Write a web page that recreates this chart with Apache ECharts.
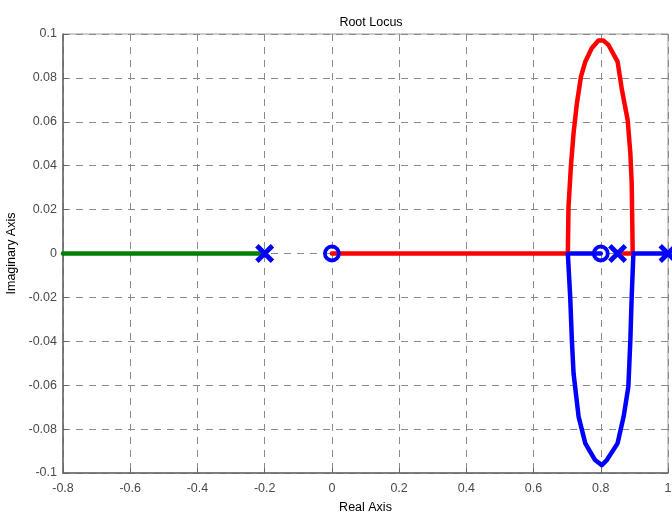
<!DOCTYPE html>
<html>
<head>
<meta charset="utf-8">
<script src="https://cdn.jsdelivr.net/npm/echarts@6/dist/echarts.min.js"></script>
<style>
  html, body { margin: 0; padding: 0; background: #fff; }
  #chart { width: 672px; height: 516px; }
</style>
</head>
<body>
<div id="chart"></div>
<script>
// real-axis segments
const greenBranch = [[-0.8, 0], [-0.2, 0]];
const redReal1 = [[0, 0], [0.702, 0]];
const redReal2 = [[0.85, 0], [0.895, 0]];
const blueReal1 = [[0.702, 0], [0.8, 0]];
const blueReal2 = [[0.897, 0], [1, 0]];

// complex branches
const upperArcX = [0.702, 0.704, 0.711, 0.719, 0.729, 0.741, 0.754, 0.773, 0.793, 0.808, 0.823, 0.850, 0.863, 0.880, 0.888, 0.892, 0.895];
const upperArcY = [0, 0.0213, 0.0395, 0.0548, 0.0684, 0.0806, 0.0874, 0.0935, 0.0970, 0.0970, 0.0950, 0.0874, 0.0745, 0.0608, 0.0456, 0.0320, 0];
const lowerArcX = [0.702, 0.709, 0.714, 0.719, 0.734, 0.754, 0.783, 0.803, 0.818, 0.850, 0.868, 0.882, 0.888, 0.892, 0.897];
const lowerArcY = [0, -0.0197, -0.0394, -0.0546, -0.0743, -0.0865, -0.0941, -0.0964, -0.0941, -0.0865, -0.0743, -0.0607, -0.0394, -0.0197, 0];

const poles = [[-0.2, 0], [0.85, 0], [1, 0]];
const zeros = [[0, 0], [0.8, 0]];

const xTicks = { min: -0.8, max: 1, interval: 0.2 };
const yTicks = { min: -0.1, max: 0.1, interval: 0.02 };

const zip = (xs, ys) => xs.map((x, i) => [x, ys[i]]);
const crossPath = 'path://M1.8,0 L5,3.2 L8.2,0 L10,1.8 L6.8,5 L10,8.2 L8.2,10 L5,6.8 L1.8,10 L0,8.2 L3.2,5 L0,1.8 Z';

const chart = echarts.init(document.getElementById('chart'));

function lineSeries(data, color) {
  return {
    type: 'line',
    data: data,
    showSymbol: false,
    symbol: 'none',
    lineStyle: { color: color, width: 4.5, cap: 'round', join: 'round' },
    animation: false,
    z: 3,
  };
}

const axisText = { color: '#4a4a4a', fontSize: 12.5, fontFamily: 'Liberation Sans, Arial, sans-serif' };

const option = {
  animation: false,
  title: {
    text: 'Root Locus',
    left: 366,
    textAlign: 'center',
    top: 11,
    textStyle: { color: '#000', fontSize: 12.5, fontWeight: 'normal', fontFamily: 'Liberation Sans, Arial, sans-serif' },
  },
  grid: {
    left: 63,
    right: 4,
    top: 34,
    bottom: 43,
    show: true,
    borderColor: '#9a9a9a',
    borderWidth: 1,
    outerBoundsMode: 'none',
  },
  xAxis: {
    type: 'value',
    min: xTicks.min,
    max: xTicks.max,
    interval: xTicks.interval,
    name: 'Real Axis',
    nameLocation: 'middle',
    nameGap: 28,
    nameTextStyle: { color: '#000', fontSize: 12.5, fontFamily: 'Liberation Sans, Arial, sans-serif' },
    axisLine: { show: true, onZero: false, lineStyle: { color: '#666', width: 1.5 } },
    axisTick: { show: true, inside: true, length: 5, lineStyle: { color: '#666' } },
    axisLabel: Object.assign({ margin: 9 }, axisText),
    splitLine: { show: true, lineStyle: { color: '#8a8a8a', type: [7, 6], width: 1 } },
  },
  yAxis: {
    type: 'value',
    min: yTicks.min,
    max: yTicks.max,
    interval: yTicks.interval,
    name: 'Imaginary Axis',
    nameLocation: 'middle',
    nameGap: 44,
    nameRotate: 90,
    nameTextStyle: { color: '#000', fontSize: 12.5, fontFamily: 'Liberation Sans, Arial, sans-serif' },
    axisLine: { show: true, onZero: false, lineStyle: { color: '#666', width: 1.5 } },
    axisTick: { show: true, inside: true, length: 5, lineStyle: { color: '#666' } },
    axisLabel: Object.assign({ margin: 6 }, axisText),
    splitLine: { show: true, lineStyle: { color: '#8a8a8a', type: [7, 6], width: 1 } },
  },
  series: [
    lineSeries(greenBranch, '#007f00'),
    lineSeries(redReal1, '#ff0000'),
    lineSeries(blueReal1, '#0000ff'),
    lineSeries(zip(upperArcX, upperArcY), '#ff0000'),
    lineSeries(zip(lowerArcX, lowerArcY), '#0000ff'),
    lineSeries(redReal2, '#ff0000'),
    lineSeries(blueReal2, '#0000ff'),
    {
      type: 'scatter',
      data: poles,
      symbol: crossPath,
      symbolSize: 19,
      itemStyle: { color: '#0000ff', opacity: 1 },
      clip: false,
      z: 5,
    },
    {
      type: 'scatter',
      data: zeros,
      symbol: 'circle',
      symbolSize: 14,
      itemStyle: { color: 'rgba(0,0,0,0)', borderColor: '#0000ff', borderWidth: 3.8, opacity: 1 },
      clip: false,
      z: 5,
    },
  ],
};

chart.setOption(option);
</script>
</body>
</html>
